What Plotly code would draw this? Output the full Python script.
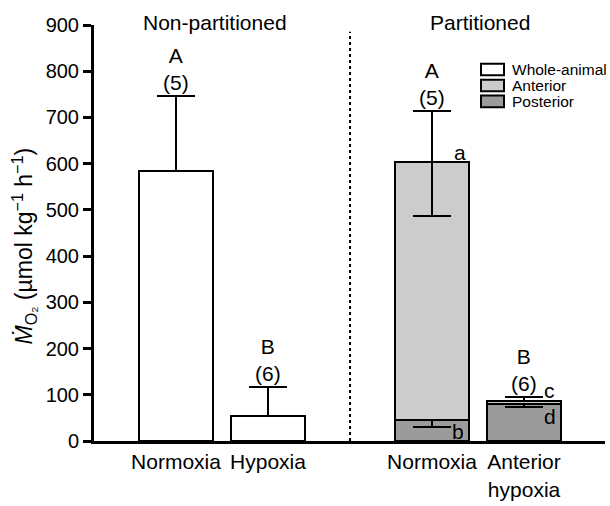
import plotly.graph_objects as go

# ---- data ----
groups = ["Non-partitioned", "Partitioned"]
conditions = ["Normoxia", "Hypoxia", "Normoxia", "Anterior<br>hypoxia"]

whole_mean = [584, 54]
whole_err_up = [163, 63]

posterior_mean = [46, 80]
posterior_err_down = [15, 6]

anterior_mean = [557, 6]          # stacked on posterior
anterior_err_up = [110, 10]
anterior_err_down = [116, 0]

group_letters = ["A<br>(5)", "B<br>(6)", "A<br>(5)", "B<br>(6)"]
seg_letters = ["a", "b", "c", "d"]
seg_letter_vals = [625, 21, 109, 52]

y_ticks = [0, 100, 200, 300, 400, 500, 600, 700, 800, 900]

# ---- layout positions ----
xpos = [1, 2, 3.783, 4.783]
seg_x = [4.087, 4.065, 5.065, 5.065]
bar_w = 0.8
FONT = "Liberation Sans, Arial, sans-serif"

fig = go.Figure()

err_style = dict(color="black", thickness=2, width=19)

fig.add_trace(go.Bar(
    x=xpos[:2], y=whole_mean, width=bar_w, name="Whole-animal",
    marker=dict(color="white", line=dict(color="black", width=2)),
    error_y=dict(type="data", symmetric=False, array=whole_err_up,
                 arrayminus=[0] * len(whole_err_up), **err_style),
))
fig.add_trace(go.Bar(
    x=xpos[2:], y=posterior_mean, width=bar_w, name="Posterior",
    marker=dict(color="#9b9b9b", line=dict(color="black", width=2)),
    error_y=dict(type="data", symmetric=False, array=[0] * len(posterior_mean),
                 arrayminus=posterior_err_down, **err_style),
))
fig.add_trace(go.Bar(
    x=xpos[2:], y=anterior_mean, width=bar_w, name="Anterior",
    marker=dict(color="#cccccc", line=dict(color="black", width=2)),
    error_y=dict(type="data", symmetric=False, array=anterior_err_up,
                 arrayminus=anterior_err_down, **err_style),
))

# group letters above caps
tops = [whole_mean[0] + whole_err_up[0], whole_mean[1] + whole_err_up[1],
        posterior_mean[0] + anterior_mean[0] + anterior_err_up[0],
        posterior_mean[1] + anterior_mean[1] + anterior_err_up[1]]
for xp, t, lab in zip(xpos, tops, group_letters):
    fig.add_annotation(x=xp, y=t, text=lab, showarrow=False, yanchor="bottom",
                       xanchor="center", yshift=0,
                       font=dict(size=21, color="black", family=FONT))

for xp, v, lab in zip(seg_x, seg_letter_vals, seg_letters):
    fig.add_annotation(x=xp, y=v, text=lab, showarrow=False,
                       xanchor="center", yanchor="middle",
                       font=dict(size=21, color="black", family=FONT))

# headers
header_x = [1.424, 4.305]
for hx, g in zip(header_x, groups):
    fig.add_annotation(x=hx, y=1.005, yref="paper", text=g, showarrow=False,
                       xanchor="center", yanchor="middle",
                       font=dict(size=21, color="black", family=FONT))

# dotted separator
fig.add_shape(type="line", x0=2.892, x1=2.892, y0=0, y1=0.984, yref="paper",
              line=dict(color="black", width=2, dash="dot"))

# y-axis title
fig.add_annotation(x=-0.137, y=0.47, xref="paper", yref="paper", textangle=-90,
                   xanchor="center", yanchor="middle",
                   text="<i>Ṁ</i><sub>O₂</sub> (µmol kg<sup>−1</sup> h<sup>−1</sup>)",
                   showarrow=False, font=dict(size=23, color="black", family=FONT))

# manual legend
legend_items = ["Whole-animal", "Anterior", "Posterior"]
legend_colors = ["white", "#cccccc", "#9b9b9b"]
W0, H0 = 94, 455
pw, ph = 511, 430
def px2x(px): return (px - W0) / pw
def py2y(py): return (H0 - py) / ph
box_tops = [65, 81.5, 98]
for bt, lab, col in zip(box_tops, legend_items, legend_colors):
    fig.add_shape(type="rect", xref="paper", yref="paper",
                  x0=px2x(481), x1=px2x(504), y0=py2y(bt + 12), y1=py2y(bt),
                  fillcolor=col, line=dict(color="black", width=2))
    fig.add_annotation(x=px2x(511), y=py2y(bt + 6), xref="paper", yref="paper",
                       text=lab, showarrow=False, xanchor="left", yanchor="middle",
                       borderpad=0,
                       font=dict(size=15.5, color="black", family=FONT))

fig.update_layout(
    width=610, height=506,
    margin=dict(l=94, r=5, t=25, b=51),
    barmode="stack",
    showlegend=False,
    plot_bgcolor="white", paper_bgcolor="white",
    font=dict(family=FONT, size=20, color="black"),
    xaxis=dict(range=[0.109, 5.663], tickvals=xpos, ticktext=conditions,
               showline=True, linewidth=3, linecolor="black", ticks="",
               showgrid=False, zeroline=False,
               tickfont=dict(size=21, color="black", family=FONT)),
    yaxis=dict(range=[0, 900], tickvals=y_ticks, showline=True, linewidth=3,
               linecolor="black", ticks="outside", ticklen=8, tickwidth=3,
               tickcolor="black", showgrid=False, zeroline=False,
               tickfont=dict(size=20, color="black", family=FONT)),
)

fig.write_html("out.html", config={"displayModeBar": False},
               post_script="document.body.style.margin='0';")
